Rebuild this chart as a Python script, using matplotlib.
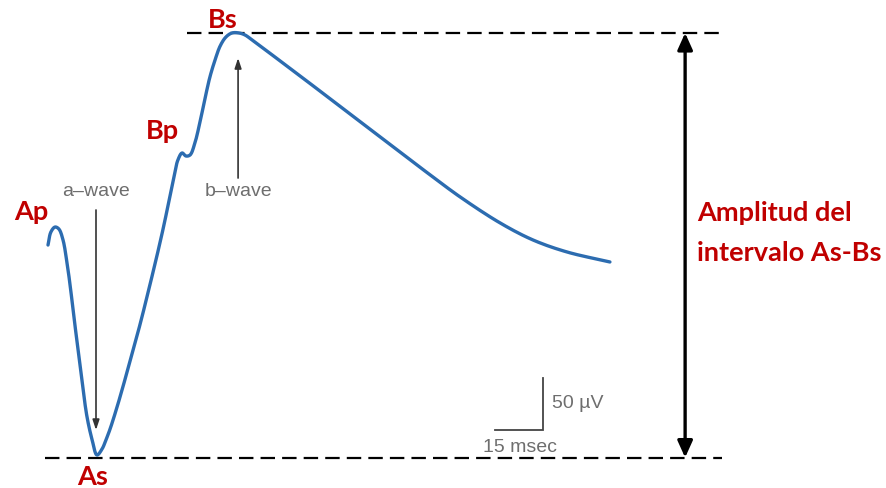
import matplotlib
matplotlib.use("Agg")
import matplotlib.pyplot as plt
import numpy as np

# ERG waveform: time (ms) and amplitude (µV, relative to As)
time_ms = [0.0, 0.9, 2.2, 3.4, 4.7, 5.9, 6.9, 8.1, 9.4, 10.9, 12.2, 13.8, 15.3,
           16.9, 18.1, 19.4, 21.3, 23.4, 25.9, 28.8, 31.3, 34.1, 36.3, 38.1,
           39.4, 40.6, 41.9, 43.1, 44.4, 45.9, 47.5, 49.1, 50.6, 52.2, 53.8,
           55.6, 57.5, 59.7, 61.6, 63.8, 78.8, 94.4, 110.0, 120.3, 128.8,
           141.3, 151.6, 162.2, 175.6]
amp_uv = [201.9, 214.4, 219.2, 217.3, 206.7, 185.6, 163.5, 132.7, 101.0, 64.4,
          36.5, 14.4, 0.0,
          5.8, 14.4, 25.0, 43.3, 65.4, 93.3, 126.0, 156.7, 192.3, 222.1, 249.0,
          268.3, 283.7, 290.4, 287.5, 288.5, 300.0, 320.2, 343.3, 363.5, 379.8,
          393.3, 401.9, 405.8, 405.8, 403.8, 399.0, 364.4, 327.9, 291.3, 267.3,
          248.1, 223.1, 206.7, 195.2, 185.6]

# key points
point_names = ["Ap", "As", "Bp", "Bs"]
point_index = [2, 12, 26, 36]

# scale bar
scale_ms = 15
scale_uv = 50

t = np.array(time_ms)
v = np.array(amp_uv)

W, H = 887, 488
fig = plt.figure(figsize=(W / 100, H / 100), dpi=100)
ax = fig.add_axes([0, 0, 1, 1])
ax.set_axis_off()
# pixel mapping: 3.2 px per ms, 1.04 px per µV
x0px, y0px, sx, sy = 48, 455, 3.2, 1.04
ax.set_xlim((0 - x0px) / sx, (W - x0px) / sx)
ax.set_ylim((y0px - H) / sy, (y0px - 0) / sy)


def catmull_rom(x, y, n=12):
    """Centripetal Catmull-Rom path through the given points (drawn in pixel space)."""
    P = np.column_stack([x * sx, y * sy])
    P = np.vstack([2 * P[0] - P[1], P, 2 * P[-1] - P[-2]])
    out = []
    for i in range(1, len(P) - 2):
        p0, p1, p2, p3 = P[i - 1], P[i], P[i + 1], P[i + 2]
        def tj(ti, a, b):
            return ti + max(np.hypot(*(b - a)), 1e-6) ** 0.5
        t0 = 0.0
        t1 = tj(t0, p0, p1)
        t2 = tj(t1, p1, p2)
        t3 = tj(t2, p2, p3)
        tt = np.linspace(t1, t2, n, endpoint=False)[:, None]
        A1 = (t1 - tt) / (t1 - t0) * p0 + (tt - t0) / (t1 - t0) * p1
        A2 = (t2 - tt) / (t2 - t1) * p1 + (tt - t1) / (t2 - t1) * p2
        A3 = (t3 - tt) / (t3 - t2) * p2 + (tt - t2) / (t3 - t2) * p3
        B1 = (t2 - tt) / (t2 - t0) * A1 + (tt - t0) / (t2 - t0) * A2
        B2 = (t3 - tt) / (t3 - t1) * A2 + (tt - t1) / (t3 - t1) * A3
        C = (t2 - tt) / (t2 - t1) * B1 + (tt - t1) / (t2 - t1) * B2
        out.append(C)
    out.append(P[-2][None, :])
    out = np.vstack(out)
    return out[:, 0] / sx, out[:, 1] / sy


blue = "#2c6cb0"
red = "#c00000"
gray = "#6e6e6e"

vmin, vmax = v.min(), v.max()
low = vmin - 2.5
dash = dict(color="black", lw=1.6, dashes=(6.5, 3.2))
ax.plot([43.4, 211.6], [vmax, vmax], **dash)
ax.plot([-0.9, 210.6], [low, low], **dash)

cx, cy = catmull_rom(t, v)
ax.plot(cx, cy, color=blue, lw=2.4, solid_joinstyle="round", solid_capstyle="round", zorder=3)

# double arrow amplitude
arrow_t = 199.1
ax.annotate("", xy=(arrow_t, vmax), xytext=(arrow_t, low),
            arrowprops=dict(arrowstyle="<|-|>,head_length=1.0,head_width=0.45",
                            color="black", lw=2.4, shrinkA=0, shrinkB=0))

tf = dict(family=["Lato", "DejaVu Sans"], fontweight="bold", color=red, fontsize=19.5)
ax.text(202.8, (y0px - 213) / sy, "Amplitud del", ha="left", va="center", **tf)
ax.text(202.8, (y0px - 253) / sy, "intervalo As-Bs", ha="left", va="center", **tf)

# point labels
offsets = {"Ap": (-17, 11), "As": (-3, -16), "Bp": (-14, 16), "Bs": (-6.5, 9)}
for name, idx in zip(point_names, point_index):
    dx, dy = offsets[name]
    ax.annotate(name, xy=(t[idx], v[idx]), xytext=(dx, dy), textcoords="offset points",
                ha="center", va="center", **tf)

# a-wave / b-wave annotations
gf = dict(family=["Liberation Sans", "DejaVu Sans"], color=gray, fontsize=14)
ax.text(15.0, 252.9, "a\u2013wave", ha="center", va="center", **gf)
ax.annotate("", xy=(15.0, 24.0), xytext=(15.0, 235.6),
            arrowprops=dict(arrowstyle="-|>,head_length=0.6,head_width=0.2",
                            color="#333333", lw=1.2, shrinkA=0, shrinkB=0))
ax.text(59.4, 252.9, "b\u2013wave", ha="center", va="center", **gf)
ax.annotate("", xy=(59.4, 381.7), xytext=(59.4, 266.3),
            arrowprops=dict(arrowstyle="-|>,head_length=0.6,head_width=0.2",
                            color="#333333", lw=1.2, shrinkA=0, shrinkB=0))

# scale bar
sb_t, sb_v = 139.7, 24.0
ax.plot([sb_t, sb_t + scale_ms, sb_t + scale_ms], [sb_v, sb_v, sb_v + scale_uv],
        color="#444444", lw=1.3, solid_joinstyle="miter")
ax.text(sb_t + scale_ms + 2.7, sb_v + scale_uv / 2 + 1, f"{scale_uv} \u00b5V",
        ha="left", va="center", **gf)
ax.text(sb_t + scale_ms / 2 + 0.3, (y0px - 448) / sy, f"{scale_ms} msec",
        ha="center", va="center", **gf)

fig.savefig("out.png", dpi=100)
